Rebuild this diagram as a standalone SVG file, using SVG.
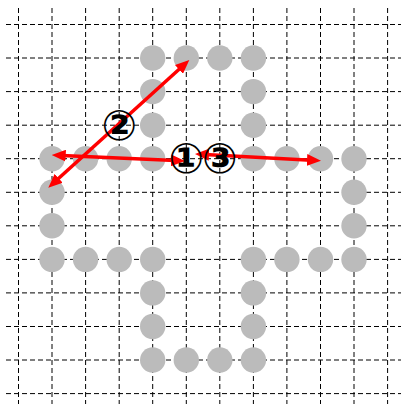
<svg xmlns="http://www.w3.org/2000/svg" width="401" height="404" viewBox="0 0 401 404">
<style>
.g{stroke:#000;stroke-width:1;stroke-dasharray:5,3;fill:none}
.c{fill:#bbbbbb}
.a{stroke:#ff0000;stroke-width:3.5;fill:none;marker-start:url(#ah);marker-end:url(#ah)}
.l{font-family:"DejaVu Sans","Noto Sans CJK JP",sans-serif;font-weight:bold;font-size:42px;fill:#000;text-anchor:middle;dominant-baseline:central}
</style>
<defs>
<marker id="ah" viewBox="0 0 14 12" refX="4" refY="6" markerWidth="14" markerHeight="12" markerUnits="userSpaceOnUse" orient="auto-start-reverse">
<path d="M0,0 L14,6 L0,12 z" fill="#ff0000"/>
</marker>
</defs>
<rect width="401" height="404" fill="#fff"/>
<g id="grid">
<path class="g" d="M6,24.5H401M6,58H401M6,91.6H401M6,125.2H401M6,158.7H401M6,192.3H401M6,225.8H401M6,259.4H401M6,292.9H401M6,326.5H401M6,360H401M6,393.6H401"/>
<path class="g" d="M18.5,8V404M52,8V404M85.6,8V404M119.2,8V404M152.7,8V404M186.3,8V404M219.8,8V404M253.4,8V404M286.9,8V404M320.5,8V404M354,8V404M387.6,8V404"/>
</g>
<g id="dots">
<circle class="c" cx="152.7" cy="58" r="12.7"/><circle class="c" cx="186.3" cy="58" r="12.7"/><circle class="c" cx="219.8" cy="58" r="12.7"/><circle class="c" cx="253.4" cy="58" r="12.7"/>
<circle class="c" cx="152.7" cy="91.6" r="12.7"/><circle class="c" cx="253.4" cy="91.6" r="12.7"/>
<circle class="c" cx="152.7" cy="125.2" r="12.7"/><circle class="c" cx="253.4" cy="125.2" r="12.7"/>
<circle class="c" cx="52" cy="158.7" r="12.7"/><circle class="c" cx="85.6" cy="158.7" r="12.7"/><circle class="c" cx="119.2" cy="158.7" r="12.7"/><circle class="c" cx="152.7" cy="158.7" r="12.7"/>
<circle class="c" cx="253.4" cy="158.7" r="12.7"/><circle class="c" cx="286.9" cy="158.7" r="12.7"/><circle class="c" cx="320.5" cy="158.7" r="12.7"/><circle class="c" cx="354" cy="158.7" r="12.7"/>
<circle class="c" cx="52" cy="192.3" r="12.7"/><circle class="c" cx="354" cy="192.3" r="12.7"/>
<circle class="c" cx="52" cy="225.8" r="12.7"/><circle class="c" cx="354" cy="225.8" r="12.7"/>
<circle class="c" cx="52" cy="259.4" r="12.7"/><circle class="c" cx="85.6" cy="259.4" r="12.7"/><circle class="c" cx="119.2" cy="259.4" r="12.7"/><circle class="c" cx="152.7" cy="259.4" r="12.7"/>
<circle class="c" cx="253.4" cy="259.4" r="12.7"/><circle class="c" cx="286.9" cy="259.4" r="12.7"/><circle class="c" cx="320.5" cy="259.4" r="12.7"/><circle class="c" cx="354" cy="259.4" r="12.7"/>
<circle class="c" cx="152.7" cy="292.9" r="12.7"/><circle class="c" cx="253.4" cy="292.9" r="12.7"/>
<circle class="c" cx="152.7" cy="326.5" r="12.7"/><circle class="c" cx="253.4" cy="326.5" r="12.7"/>
<circle class="c" cx="152.7" cy="360" r="12.7"/><circle class="c" cx="186.3" cy="360" r="12.7"/><circle class="c" cx="219.8" cy="360" r="12.7"/><circle class="c" cx="253.4" cy="360" r="12.7"/>
</g>
<g id="connectors">
<line class="a" x1="61.7" y1="155.45" x2="175" y2="160.55"/>
<line class="a" x1="55.7" y1="181" x2="181.9" y2="66.7"/>
<line class="a" x1="205" y1="154.5" x2="311" y2="160.2"/>
</g>
<g id="label1"><text class="l" x="186.3" y="158.7">①</text></g>
<g id="label2"><text class="l" x="119.2" y="125.2">②</text></g>
<g id="label3"><text class="l" x="219.8" y="158.7">③</text></g>
</svg>
